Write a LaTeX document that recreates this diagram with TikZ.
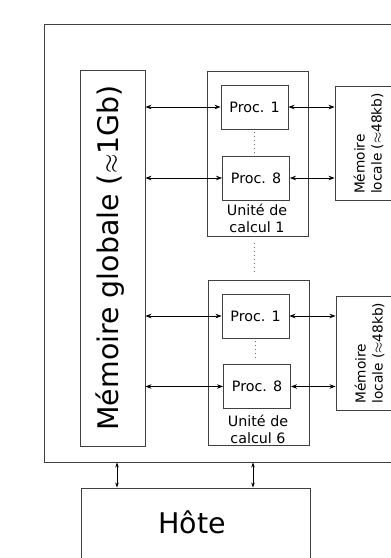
\documentclass[tikz,border=0pt]{standalone}
\usepackage{fontspec}
\setmainfont{DejaVu Sans}
\usetikzlibrary{arrows.meta}
\begin{document}
\begin{tikzpicture}[x=1pt,y=-1pt,
  box/.style={draw=black!75,line width=0.9pt,inner sep=0pt,minimum width=#1},
  proc/.style={box=67pt,minimum height=44pt,font=\fontsize{14.3}{17}\selectfont},
  unitlab/.style={align=center,inner sep=0pt,font=\fontsize{14.3}{17}\selectfont},
  lmem/.style={box=66pt,minimum height=114pt},
  lmemtxt/.style={rotate=90,align=left,inner sep=0pt,font=\fontsize{13.7}{17}\selectfont},
  arr/.style={{Stealth[length=6pt,width=4.5pt]}-{Stealth[length=6pt,width=4.5pt]},line width=0.7pt,black},
  harr/.style={{Stealth[length=5pt,width=3.5pt]}-{Stealth[length=5pt,width=3.5pt]},line width=0.7pt,black},
  dots/.style={line width=0.9pt,black!60,dash pattern=on 0.8pt off 3.2pt}
]
\useasboundingbox (0,0) rectangle (391,558);
% outer box
\node[box=376pt,minimum height=438pt] (outer) at (232,243) {};
% global memory
\node[box=65pt,minimum height=376pt] (gm) at (112.5,258) {};
\node[rotate=90,inner sep=0pt,font=\fontsize{28.4}{34}\selectfont] (gmtxt) at (110,258) {Mémoire globale ($\approx$1Gb)};
% unit 1
\node[box=101pt,minimum height=165pt] (u1) at (257.5,154) {};
\node[proc] (p11) at (254.5,107) {Proc. 1};
\node[proc] (p18) at (256,178) {Proc. 8};
\node[unitlab] (u1lab) at (257,218.5) {Unité de\\calcul 1};
% unit 6
\node[box=101pt,minimum height=165pt] (u6) at (258.5,362.5) {};
\node[proc] (p61) at (255.5,316) {Proc. 1};
\node[proc] (p68) at (257,386.5) {Proc. 8};
\node[unitlab] (u6lab) at (258,429.5) {Unité de\\calcul 6};
% local memories
\node[lmem] (lm1) at (368,143.5) {};
\node[lmemtxt] (lm1txt) at (368.5,143.5) {Mémoire\\locale ($\approx$48kb)};
\node[lmem] (lm6) at (369,353) {};
\node[lmemtxt] (lm6txt) at (369.5,353) {Mémoire\\locale ($\approx$48kb)};
% host
\node[box=229pt,minimum height=74pt] (host) at (195.5,525) {};
\node[anchor=base,inner sep=0pt,font=\fontsize{28.5}{34}\selectfont] (hosttxt) at (192,533) {Hôte};
% connectors
\draw[arr] (gm.east |- p11.west) -- (p11.west);
\draw[arr] (gm.east |- p18.west) -- (p18.west);
\draw[arr] (gm.east |- p61.west) -- (p61.west);
\draw[arr] (gm.east |- p68.west) -- (p68.west);
\draw[arr] (p11.east) -- (p11.east -| lm1.west);
\draw[arr] (p18.east) -- (p18.east -| lm1.west);
\draw[arr] (p61.east) -- (p61.east -| lm6.west);
\draw[arr] (p68.east) -- (p68.east -| lm6.west);
\coordinate (ha1) at (117,0);
\coordinate (ha2) at (253,0);
\draw[harr] (ha1 |- outer.south) -- (ha1 |- host.north);
\draw[harr] (ha2 |- outer.south) -- (ha2 |- host.north);
% dots
\draw[dots,shorten <=3pt,shorten >=3pt] (p11.south) -- (p11.south |- p18.north);
\draw[dots,shorten <=3pt,shorten >=3pt] (p61.south) -- (p61.south |- p68.north);
\draw[dots,shorten <=6pt,shorten >=6pt] (u1.south -| p11.south) -- (u6.north -| p11.south);
\end{tikzpicture}
\end{document}
